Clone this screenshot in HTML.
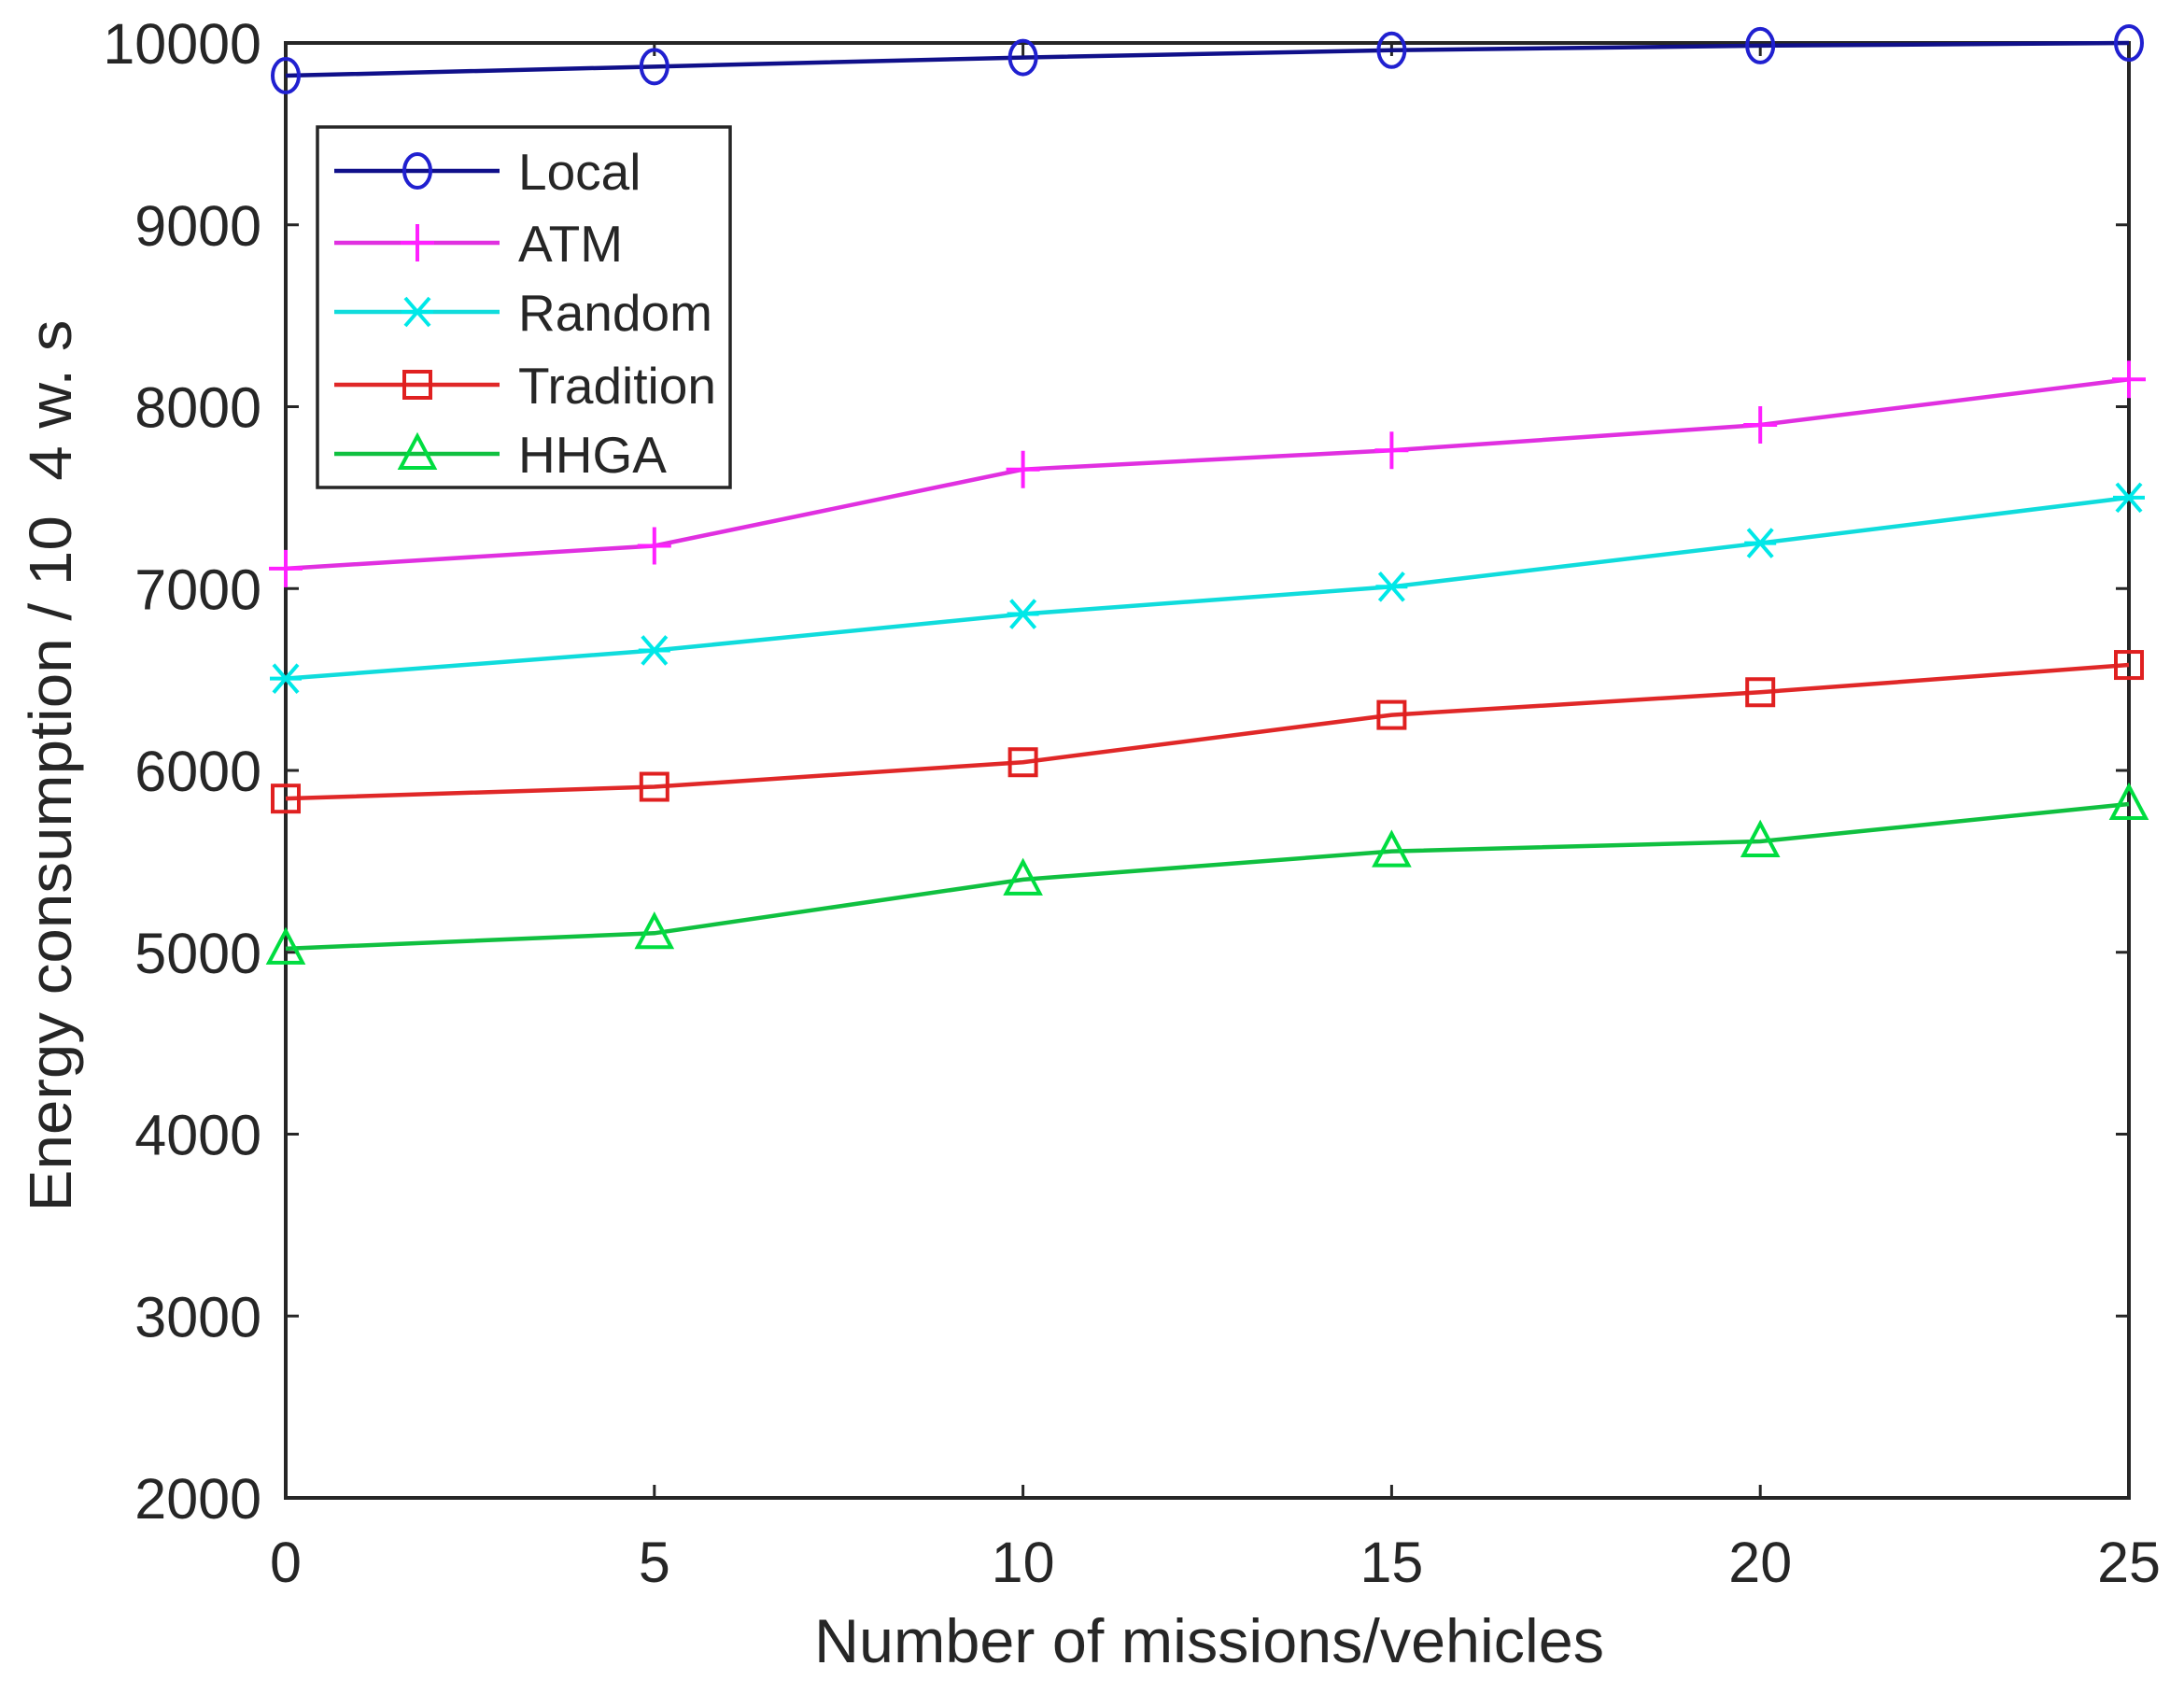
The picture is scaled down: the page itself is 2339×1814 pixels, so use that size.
<!DOCTYPE html>
<html><head><meta charset="utf-8"><style>
html,body{margin:0;padding:0;background:#fff}
svg{display:block}
text{font-family:"Liberation Sans",Arial,sans-serif;fill:#262626}
</style></head><body>
<svg id="chart" width="2339" height="1814" viewBox="0 0 2339 1814" xmlns="http://www.w3.org/2000/svg">
<rect x="0" y="0" width="2339" height="1814" fill="#fff"/>
<g id="plot"></g>
<text x="1295" y="1780" font-size="66" text-anchor="middle" textLength="846" lengthAdjust="spacingAndGlyphs">Number of missions/vehicles</text>
<text transform="translate(76,820) rotate(-90)" font-size="64" text-anchor="middle" textLength="955" lengthAdjust="spacingAndGlyphs" xml:space="preserve">Energy consumption / 10  4 w. s</text>
</svg>
<script>
const xCategories = [0, 5, 10, 15, 20, 25];
const yTicks = [2000, 3000, 4000, 5000, 6000, 7000, 8000, 9000, 10000];
const xTicks = [0, 5, 10, 15, 20, 25];
const seriesNames = ["Local", "ATM", "Random", "Tradition", "HHGA"];
const localValues = [9820, 9870, 9920, 9960, 9985, 10000];
const atmValues = [7110, 7235, 7655, 7760, 7900, 8150];
const randomValues = [6505, 6660, 6860, 7010, 7250, 7500];
const traditionValues = [5845, 5910, 6045, 6305, 6430, 6580];
const hhgaValues = [5020, 5105, 5400, 5555, 5610, 5815];

const NS = "http://www.w3.org/2000/svg";
const L = 306, R = 2280, T = 46, B = 1604;
const xMin = 0, xMax = 25, yMin = 2000, yMax = 10000;
function xs(v){ return L + (v - xMin) / (xMax - xMin) * (R - L); }
function ys(v){ return B - (v - yMin) / (yMax - yMin) * (B - T); }
function mk(tag, attrs, parent){
  const e = document.createElementNS(NS, tag);
  for (const k in attrs) e.setAttribute(k, attrs[k]);
  parent.appendChild(e);
  return e;
}
const plot = document.getElementById("plot");

const box = mk("rect", {x:L, y:T, width:R-L, height:B-T, fill:"none", stroke:"#262626", "stroke-width":4}, plot);



yTicks.forEach(v => {
  const y = ys(v);
  const t1 = mk("line", {x1:L, y1:y, x2:L+14, y2:y, stroke:"#262626", "stroke-width":3}, plot);
  
  
  const t2 = mk("line", {x1:R, y1:y, x2:R-14, y2:y, stroke:"#262626", "stroke-width":3}, plot);
  
  
  const lb = mk("text", {x:L-26, y:y+22, "font-size":61, "text-anchor":"end"}, plot);
  lb.textContent = v;
  
  
});
xTicks.forEach(v => {
  const x = xs(v);
  const t1 = mk("line", {x1:x, y1:B, x2:x, y2:B-14, stroke:"#262626", "stroke-width":3}, plot);
  
  
  const t2 = mk("line", {x1:x, y1:T, x2:x, y2:T+14, stroke:"#262626", "stroke-width":3}, plot);
  
  
  const lb = mk("text", {x:x, y:1694, "font-size":61, "text-anchor":"middle"}, plot);
  lb.textContent = v;
  
  
});

function marker(g, type, cx, cy, color){
  let e;
  if (type === "o") e = mk("ellipse", {cx:cx, cy:cy, rx:14, ry:18, fill:"none", stroke:color, "stroke-width":4}, g);
  else if (type === "+") e = mk("path", {d:`M${cx-18},${cy}H${cx+18}M${cx},${cy-20}V${cy+20}`, stroke:color, "stroke-width":4, fill:"none"}, g);
  else if (type === "x") e = mk("path", {d:`M${cx-13},${cy-15}L${cx+13},${cy+15}M${cx-13},${cy+15}L${cx+13},${cy-15}M${cx-17},${cy}H${cx+17}`, stroke:color, "stroke-width":4, fill:"none"}, g);
  else if (type === "s") e = mk("rect", {x:cx-14, y:cy-14, width:28, height:28, fill:"none", stroke:color, "stroke-width":4}, g);
  else e = mk("path", {d:`M${cx},${cy-19}L${cx+18},${cy+15}L${cx-18},${cy+15}Z`, fill:"none", stroke:color, "stroke-width":4}, g);
  return e;
}

const seriesValues = [localValues, atmValues, randomValues, traditionValues, hhgaValues];
const lineColors = ["#10108a", "#e030e0", "#10dcdc", "#e02828", "#10c040"];
const markerColors = ["#2020d0", "#ff20ff", "#00e8e8", "#e02020", "#00dd40"];
const markerTypes = ["o", "+", "x", "s", "t"];

seriesValues.forEach((vals, i) => {
  const g = mk("g", {}, plot);
  
  
  const pts = vals.map((v, j) => xs(xCategories[j]) + "," + ys(v)).join(" ");
  const pl = mk("polyline", {points:pts, fill:"none", stroke:lineColors[i], "stroke-width":4.5}, g);
  
  
  vals.forEach((v, j) => {
    const m = marker(g, markerTypes[i], xs(xCategories[j]), ys(v), markerColors[i]);
    
    
  });
});

const lg = mk("g", {}, plot);


const lbox = mk("rect", {x:340, y:136, width:442, height:386, fill:"#fff", stroke:"#262626", "stroke-width":3.5}, lg);


const legendY = [183, 260, 334, 412, 486];
seriesNames.forEach((name, i) => {
  const y = legendY[i];
  const ln = mk("line", {x1:358, y1:y, x2:535, y2:y, stroke:lineColors[i], "stroke-width":4.5}, lg);
  
  
  const m = marker(lg, markerTypes[i], 447, y, markerColors[i]);
  
  
  const t = mk("text", {x:555, y:y+20, "font-size":55, fill:"#000"}, lg);
  t.textContent = name;
  
  
});
</script>
</body></html>
